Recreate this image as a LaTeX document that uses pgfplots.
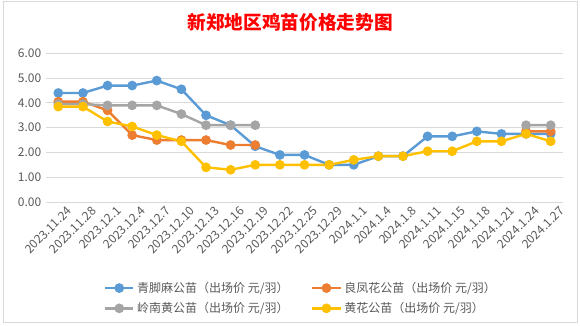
\documentclass[border=0pt]{standalone}
\usepackage{pgfplots}
\pgfplotsset{compat=1.18}
\usepackage{fontspec}
\setmainfont{Noto Sans CJK SC}
\definecolor{cblue}{HTML}{5B9BD5}
\definecolor{corange}{HTML}{ED7D31}
\definecolor{cgray}{HTML}{A5A5A5}
\definecolor{cyellow}{HTML}{FFC000}
\definecolor{tickgray}{HTML}{595959}
\definecolor{gridgray}{HTML}{D9D9D9}
\begin{document}
\begin{tikzpicture}
\path[use as bounding box] (0,0) rectangle (435pt,243.75pt);
\draw[gridgray, line width=0.75pt] (2.25pt,2.25pt) rectangle (432.75pt,242.25pt);
\node[text=red, font=\fontsize{14}{16}\selectfont\bfseries] at (217.5pt,227.25pt) {新郑地区鸡苗价格走势图};
\begin{axis}[
  at={(34.5pt,92.25pt)}, anchor=south west,
  scale only axis, width=387.75pt, height=111.5pt,
  xmin=-0.5, xmax=20.5, ymin=0, ymax=6,
  ytick={0,1,2,3,4,5,6},
  yticklabel style={/pgf/number format/.cd, fixed, fixed zerofill, precision=2},
  /pgf/number format/assume math mode=true,
  xtick={0,...,20},
  xticklabels={2023.11.24,2023.11.28,2023.12.1,2023.12.4,2023.12.7,2023.12.10,2023.12.13,2023.12.16,2023.12.19,2023.12.22,2023.12.25,2023.12.29,2024.1.1,2024.1.4,2024.1.8,2024.1.11,2024.1.15,2024.1.18,2024.1.21,2024.1.24,2024.1.27},
  xticklabel style={rotate=45, anchor=north east, inner sep=1pt, xshift=3.5pt, yshift=-5pt},
  ticklabel style={font=\fontsize{9}{10}\selectfont, text=tickgray},
  major tick length=0pt,
  axis line style={draw=none},
  ymajorgrids, grid style={gridgray, line width=0.75pt},
  unbounded coords=jump,
  every axis plot/.append style={line width=1.8pt, mark=*, mark size=2.7pt, mark options={solid}},
  legend image code/.code={\draw[mark repeat=2, mark phase=2] plot coordinates {(0cm,0cm) (0.37cm,0cm) (0.74cm,0cm)};},
  legend columns=2,
  legend style={at={(0.104,-0.50)}, anchor=north west, draw=none, fill=none,
    font=\fontsize{9}{11}\selectfont, text=tickgray, row sep=2pt,
    /tikz/every even column/.append style={column sep=15pt}},
  legend cell align=left,
]
\addplot[cblue] coordinates {(0,4.4)(1,4.4)(2,4.7)(3,4.7)(4,4.9)(5,4.55)(6,3.5)(7,3.1)(8,2.25)(9,1.9)(10,1.9)(11,1.5)(12,1.5)(13,1.85)(14,1.85)(15,2.65)(16,2.65)(17,2.85)(18,2.75)(19,2.75)(20,2.75)};
\addlegendentry{青脚麻公苗（出场价 元/羽）}
\addplot[corange] coordinates {(0,4.05)(1,4.05)(2,3.7)(3,2.7)(4,2.5)(5,2.5)(6,2.5)(7,2.3)(8,2.3)(9,nan)(10,nan)(11,nan)(12,nan)(13,nan)(14,nan)(15,nan)(16,nan)(17,nan)(18,nan)(19,2.85)(20,2.85)};
\addlegendentry{良凤花公苗（出场价 元/羽）}
\addplot[cgray] coordinates {(0,3.95)(1,3.95)(2,3.9)(3,3.9)(4,3.9)(5,3.55)(6,3.1)(7,3.1)(8,3.1)(9,nan)(10,nan)(11,nan)(12,nan)(13,nan)(14,nan)(15,nan)(16,nan)(17,nan)(18,nan)(19,3.1)(20,3.1)};
\addlegendentry{岭南黄公苗（出场价 元/羽）}
\addplot[cyellow] coordinates {(0,3.85)(1,3.85)(2,3.25)(3,3.05)(4,2.7)(5,2.45)(6,1.4)(7,1.3)(8,1.5)(9,1.5)(10,1.5)(11,1.5)(12,1.7)(13,1.85)(14,1.85)(15,2.05)(16,2.05)(17,2.45)(18,2.45)(19,2.75)(20,2.45)};
\addlegendentry{黄花公苗（出场价 元/羽）}
\end{axis}
\end{tikzpicture}
\end{document}
